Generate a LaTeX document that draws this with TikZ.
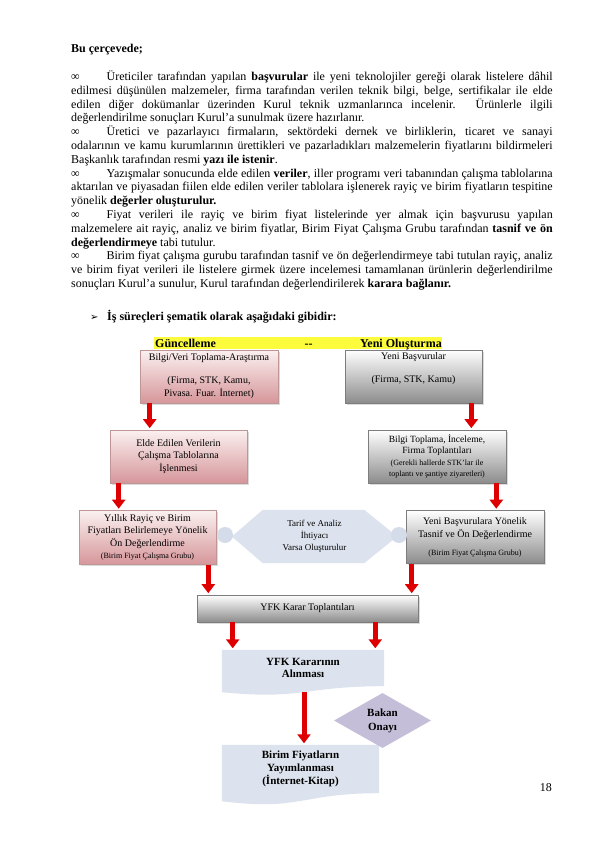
\documentclass[tikz,border=0pt]{standalone}
\usepackage{fontspec}
\setmainfont{Liberation Serif}
\newfontfamily\dejavu{DejaVu Sans}
\usetikzlibrary{shadows,arrows.meta,backgrounds,shapes.geometric,calc}
\pgfdeclarelayer{bottom}
\pgfsetlayers{bottom,background,main}
\definecolor{pinkT}{RGB}{251,240,240}
\definecolor{pinkB}{RGB}{214,150,154}
\definecolor{pinkD}{RGB}{190,150,150}
\definecolor{greyB}{RGB}{140,140,140}
\definecolor{greyD}{RGB}{125,125,125}
\definecolor{arrowred}{RGB}{222,0,0}
\definecolor{docblue}{RGB}{221,227,238}
\definecolor{circfill}{RGB}{212,220,234}
\definecolor{lav}{RGB}{196,190,217}
\definecolor{hl}{RGB}{252,252,60}
\begin{document}
\begin{tikzpicture}[x=1pt,y=-1pt,
  boxbase/.style={rectangle, line width=0.6pt, minimum width=138pt, minimum height=53pt,
    inner sep=2pt, align=center, font=\fontsize{10}{13}\selectfont,
    drop shadow={shadow xshift=1.6pt, shadow yshift=-1.8pt, opacity=0.28}},
  pinkbox/.style={boxbase, draw=pinkD, top color=pinkT, bottom color=pinkB},
  greybox/.style={boxbase, draw=greyD, top color=white, bottom color=greyB},
  redarrow/.style={draw=arrowred, line width=5pt, shorten >=1.5pt,
    -{Triangle[width=13pt,length=9pt]}},
  docbox/.style={rectangle, inner sep=0pt, align=center, font=\bfseries\fontsize{11}{12.5}\selectfont},
  plain/.style={inner sep=0pt, anchor=base west}]
\begin{pgfonlayer}{bottom}
\fill[white] (0,0) rectangle (595,842);
\end{pgfonlayer}
\useasboundingbox (0,0) rectangle (595,842);

% ---------- body text ----------
\node[plain, text width=481.5pt, align=justify, font=\fontsize{12}{13.8}\selectfont] (body) at (71,53) {%
\hyphenpenalty=10000 \exhyphenpenalty=10000
\textbf{Bu çerçevede;}\par\mbox{}\par
\makebox[35.4pt][l]{∞}Üreticiler tarafından yapılan \textbf{başvurular} ile yeni teknolojiler gereği olarak listelere dâhil\linebreak
edilmesi düşünülen malzemeler, firma tarafından verilen teknik bilgi, belge, sertifikalar ile elde\linebreak
edilen diğer dokümanlar üzerinden Kurul teknik uzmanlarınca incelenir. Ürünlerle ilgili\linebreak
değerlendirilme sonuçları Kurul’a sunulmak üzere hazırlanır.\par
\makebox[35.4pt][l]{∞}Üretici ve pazarlayıcı firmaların, sektördeki dernek ve birliklerin, ticaret ve sanayi\linebreak
odalarının ve kamu kurumlarının ürettikleri ve pazarladıkları malzemelerin fiyatlarını bildirmeleri\linebreak
Başkanlık tarafından resmi \textbf{yazı ile istenir}.\par
\makebox[35.4pt][l]{∞}Yazışmalar sonucunda elde edilen \textbf{veriler}, iller programı veri tabanından çalışma tablolarına\linebreak
aktarılan ve piyasadan fiilen elde edilen veriler tablolara işlenerek rayiç ve birim fiyatların tespitine\linebreak
yönelik \textbf{değerler oluşturulur.}\par
\makebox[35.4pt][l]{∞}Fiyat verileri ile rayiç ve birim fiyat listelerinde yer almak için başvurusu yapılan\linebreak
malzemelere ait rayiç, analiz ve birim fiyatlar, Birim Fiyat Çalışma Grubu tarafından \textbf{tasnif ve ön}\linebreak
\textbf{değerlendirmeye} tabi tutulur.\par
\makebox[35.4pt][l]{∞}Birim fiyat çalışma gurubu tarafından tasnif ve ön değerlendirmeye tabi tutulan rayiç, analiz\linebreak
ve birim fiyat verileri ile listelere girmek üzere incelemesi tamamlanan ürünlerin değerlendirilme\linebreak
sonuçları Kurul’a sunulur, Kurul tarafından değerlendirilerek \textbf{karara bağlanır.}};

\node[plain, font=\dejavu\fontsize{10}{12}\selectfont] (hbul) at (90,320) {➢};
\node[plain, font=\bfseries\fontsize{12}{14}\selectfont] (heading) at (107,320.5) {İş süreçleri şematik olarak aşağıdaki gibidir:};

% ---------- header bar ----------
\node[fill=hl, inner sep=0pt, minimum width=288pt, minimum height=12.5pt, anchor=north west] (hdr) at (154,336.5) {};
\node[plain, font=\bfseries\fontsize{12}{14}\selectfont] (hdrA) at (155,347) {Güncelleme};
\node[inner sep=0pt, anchor=base, font=\bfseries\fontsize{12}{14}\selectfont] (hdrB) at (308.5,347) {-{}-};
\node[inner sep=0pt, anchor=base east, font=\bfseries\fontsize{12}{14}\selectfont] (hdrC) at (442,347) {Yeni Oluşturma};

% ---------- boxes ----------
\node[pinkbox] (b1) at (209,376.5) {Bilgi/Veri Toplama-Araştırma\\[10pt](Firma, STK, Kamu,\\Pivasa. Fuar. İnternet)};
\node[greybox, minimum width=137pt] (b2) at (413.5,376.5) {Yeni Başvurular\\[10pt](Firma, STK, Kamu)\\[5pt]\mbox{}};
\node[pinkbox, minimum width=137pt, font=\fontsize{10}{12.5}\selectfont] (b3) at (178.5,456.5) {Elde Edilen Verilerin\\Çalışma Tablolarına\\İşlenmesi};
\node[greybox, font=\fontsize{9.5}{11.5}\selectfont] (b4) at (437,456.5) {Bilgi Toplama, İnceleme,\\Firma Toplantıları\\\fontsize{8}{10.5}\selectfont(Gerekli hallerde STK’lar ile\\\fontsize{8}{10.5}\selectfont toplantı ve şantiye ziyaretleri)};
\node[pinkbox, minimum width=137pt, minimum height=54pt, font=\fontsize{10}{12.5}\selectfont] (b5) at (147.5,537.5) {Yıllık Rayiç ve Birim\\Fiyatları Belirlemeye Yönelik\\Ön Değerlendirme\\\fontsize{8}{10.5}\selectfont(Birim Fiyat Çalışma Grubu)};
\node[greybox, minimum width=138pt, font=\fontsize{10}{13}\selectfont] (b6) at (475,537) {Yeni Başvurulara Yönelik\\Tasnif ve Ön Değerlendirme\\[5pt]\fontsize{8}{10.5}\selectfont(Birim Fiyat Çalışma Grubu)};

% hexagon
\node[inner sep=0pt, minimum width=165pt, minimum height=53pt, align=center, font=\fontsize{9}{12}\selectfont] (hex) at (314.5,536.5) {Tarif ve Analiz\\İhtiyacı\\Varsa Oluşturulur};
\begin{scope}[on background layer]
\fill[docblue] (hex.west) -- ([xshift=31pt]hex.north west) -- ([xshift=-33pt]hex.north east) -- (hex.east)
  -- ([xshift=-33pt]hex.south east) -- ([xshift=31pt]hex.south west) -- cycle;
\end{scope}
\node[circle, fill=circfill, minimum size=16pt, inner sep=0pt] (c1) at (225,535) {};
\node[circle, fill=circfill, minimum size=16pt, inner sep=0pt] (c2) at (399,535) {};

\node[greybox, minimum width=221pt, minimum height=27pt] (b7) at (307.5,608.5) {YFK Karar Toplantıları};

% document shapes
\node[docbox, minimum width=162pt, minimum height=36pt] (b8) at (303,668) {YFK Kararının\\Alınması};
\node[docbox, minimum width=157pt, minimum height=48pt, font=\bfseries\fontsize{11}{13}\selectfont] (b9) at (300.5,769) {Birim Fiyatların\\Yayımlanması\\(İnternet-Kitap)};
\begin{scope}[on background layer]
\fill[docblue] (b8.north west) -- (b8.north east) -- (b8.south east)
  .. controls (b8.south) and ($(b8.south)+(0,14)$) .. ($(b8.south west)+(0,6)$) -- cycle;
\fill[docblue] (b9.north west) -- (b9.north east) -- (b9.south east)
  .. controls (b9.south) and ($(b9.south)+(0,18)$) .. ($(b9.south west)+(0,8)$) -- cycle;
\end{scope}

\node[diamond, fill=lav, minimum width=97pt, minimum height=55pt, aspect=1.8, inner sep=0pt, align=center,
  font=\bfseries\fontsize{11}{14}\selectfont] (dm) at (382.5,720.5) {Bakan\\Onayı};

% ---------- arrows ----------
\coordinate (a1) at ([xshift=10pt]b1.south west);
\coordinate (a2) at ([xshift=-11pt]b2.south east);
\coordinate (a3) at ([xshift=9pt]b3.south west);
\coordinate (a4) at ([xshift=-10pt]b4.south east);
\coordinate (a5) at ([xshift=-8pt]b5.south east);
\coordinate (a6) at ([xshift=6pt]b6.south west);
\coordinate (a7) at ([xshift=36pt]b7.south west);
\coordinate (a8) at ([xshift=-43pt]b7.south east);
\coordinate (a9) at ($(b8.south)+(1,6)$);
\draw[redarrow] (a1) -- (a1 |- b3.north);
\draw[redarrow] (a2) -- (a2 |- b4.north);
\draw[redarrow] (a3) -- (a3 |- b5.north);
\draw[redarrow] (a4) -- (a4 |- b6.north);
\draw[redarrow] (a5) -- (a5 |- b7.north);
\draw[redarrow] (a6) -- (a6 |- b7.north);
\draw[redarrow] (a7) -- (a7 |- b8.north);
\draw[redarrow] (a8) -- (a8 |- b8.north);
\draw[redarrow] (a9) -- (a9 |- b9.north);

\node[inner sep=0pt, anchor=base east, font=\fontsize{12}{14}\selectfont] (pg) at (552,791) {18};
\end{tikzpicture}
\end{document}
